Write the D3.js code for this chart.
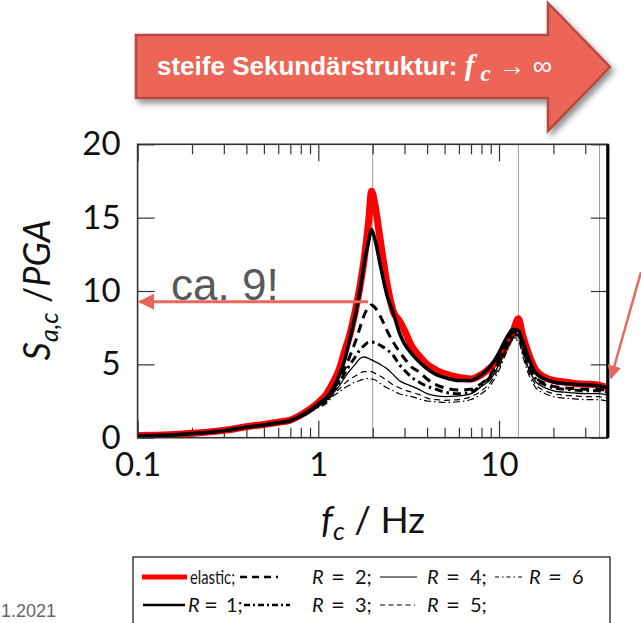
<!DOCTYPE html>
<html><head><meta charset="utf-8">
<script src="https://cdn.jsdelivr.net/npm/d3@7"></script>
<style>body{margin:0;background:#fff} svg{display:block}</style>
</head><body>
<svg id="c" width="641" height="623"></svg>
<script>
// ---------- data ----------
const freqs = [0.1,0.15,0.2,0.3,0.4,0.5,0.6,0.7,0.8,0.9,1.0,
  1.1,1.2,1.3,1.4,1.5,1.6,1.7,1.8,1.9,1.97,
  2.05,2.2,2.4,2.6,2.8,3.0,3.3,3.6,4.0,4.5,
  5.0,6.0,7.0,8.0,9.0,10,11,12,12.8,13.5,
  14.5,16,18,20,23,26,30,35,40];
const elastic = [0.15,0.2,0.3,0.5,0.75,0.9,1.05,1.2,1.55,1.95,2.4,
  2.9,3.7,4.6,5.9,7.1,8.6,10.3,12.3,14.8,16.8,
  16.0,13.5,10.5,8.6,8.0,7.3,6.2,5.6,5.0,4.6,
  4.35,4.1,4.0,4.3,4.8,5.4,6.3,7.3,8.1,7.0,
  5.8,4.6,4.1,3.9,3.8,3.7,3.65,3.6,3.4];
const R1 = [0.13,0.18,0.28,0.48,0.72,0.87,1.02,1.17,1.5,1.88,2.3,
  2.7,3.3,4.2,5.3,6.8,8.3,10.0,12.0,13.4,14.2,
  13.6,11.8,9.7,8.5,7.2,6.4,5.7,5.2,4.7,4.3,
  4.1,3.9,3.9,4.3,4.9,5.8,6.8,7.4,7.3,6.6,
  5.5,4.4,4.0,3.8,3.7,3.65,3.6,3.55,3.4];
const R2 = [0.13,0.18,0.28,0.48,0.72,0.87,1.02,1.17,1.48,1.85,2.25,
  2.6,3.2,3.9,4.7,5.6,6.5,7.5,8.4,8.9,9.05,
  8.9,8.3,7.3,6.5,5.9,5.4,4.8,4.5,4.0,3.6,
  3.4,3.25,3.3,3.7,4.3,5.4,6.5,7.2,7.1,6.3,
  5.1,4.1,3.7,3.5,3.4,3.35,3.3,3.3,3.2];
const R3 = [0.13,0.18,0.28,0.47,0.7,0.85,1.0,1.15,1.45,1.8,2.2,
  2.5,3.1,3.7,4.4,5.0,5.5,6.0,6.3,6.5,6.5,
  6.5,6.3,6.0,5.6,5.0,4.6,4.1,3.8,3.5,3.3,
  3.1,3.0,3.1,3.6,4.2,5.2,6.3,7.0,7.0,6.2,
  5.0,4.0,3.6,3.4,3.3,3.25,3.2,3.2,3.1];
const R4 = [0.12,0.17,0.27,0.46,0.7,0.85,1.0,1.14,1.43,1.78,2.15,
  2.5,3.0,3.5,4.1,4.6,5.0,5.4,5.5,5.4,5.3,
  5.2,5.0,4.7,4.3,3.9,3.7,3.5,3.3,3.0,2.85,
  2.8,2.85,3.0,3.5,4.0,5.0,6.1,6.9,7.0,6.0,
  4.8,3.8,3.4,3.2,3.1,3.05,3.0,3.0,2.9];
const R5 = [0.12,0.17,0.27,0.46,0.7,0.84,0.98,1.12,1.4,1.75,2.1,
  2.4,2.9,3.3,3.7,4.0,4.2,4.4,4.5,4.5,4.5,
  4.4,4.2,3.9,3.6,3.4,3.25,3.1,2.95,2.7,2.6,
  2.55,2.6,2.8,3.2,3.8,4.8,6.0,6.8,6.8,5.8,
  4.6,3.6,3.2,3.0,2.9,2.85,2.8,2.8,2.7];
const R6 = [0.12,0.17,0.27,0.45,0.68,0.82,0.96,1.1,1.38,1.72,2.05,
  2.3,2.8,3.1,3.4,3.6,3.8,3.9,4.0,4.05,4.0,
  3.95,3.7,3.4,3.2,3.0,2.9,2.8,2.65,2.5,2.45,
  2.4,2.45,2.6,3.0,3.6,4.6,5.8,6.7,6.6,5.6,
  4.4,3.4,3.0,2.8,2.7,2.65,2.6,2.6,2.5];
const xMajorTicks = [0.1, 1, 10];
const xMinorTicks = [0.2,0.3,0.4,0.5,0.6,0.7,0.8,0.9,2,3,4,5,6,7,8,9,20,30];
const yTicks = [0, 5, 10, 15, 20];
const gridFreqs = [2, 12.8, 36];
const annotValue = 9;
const legendLabels = ["elastic;", "2;", "4;", "6", "1;", "3;", "5;"];

// ---------- layout ----------
const L = 137.6, R = 607.8, T = 144.3, B = 437.7;
const x = d3.scaleLog().domain([0.1, 40]).range([L, R]);
const y = d3.scaleLinear().domain([0, 20]).range([B, T]);
const svg = d3.select("#c");
const FONT = "Lato, 'DejaVu Sans', sans-serif";

const defs = svg.append("defs");
defs.append("clipPath").attr("id","clip").append("rect")
  .attr("x", L).attr("y", T).attr("width", R-L).attr("height", B-T);
const sh = defs.append("filter").attr("id","shadow").attr("x","-10%").attr("y","-20%").attr("width","130%").attr("height","150%");
sh.append("feDropShadow").attr("dx",3).attr("dy",4).attr("stdDeviation",3).attr("flood-color","#000").attr("flood-opacity",0.45);
defs.append("marker").attr("id","ah").attr("viewBox","0 0 10 10").attr("refX",9).attr("refY",5)
  .attr("markerWidth",5.5).attr("markerHeight",5.5).attr("orient","auto-start-reverse")
  .attr("markerUnits","strokeWidth")
  .append("path").attr("d","M0,0 L10,5 L0,10 Z").attr("fill","#E8675A");

// ---------- big arrow ----------
const ax0 = 136, ax1 = 548, ay0 = 35, ay1 = 98, ht = 3, hb = 131, tipX = 610, tipY = 67;
svg.append("path")
  .attr("d", `M${ax0},${ay0} L${ax1},${ay0} L${ax1},${ht} L${tipX},${tipY} L${ax1},${hb} L${ax1},${ay1} L${ax0},${ay1} Z`)
  .attr("fill","#EC6557").attr("stroke","#B44A3F").attr("stroke-width",2.5)
  .attr("filter","url(#shadow)");
const at = svg.append("text").attr("x",157).attr("y",75).attr("fill","#fff")
  .attr("font-family","'Liberation Sans', Arial, sans-serif").attr("font-weight","bold").attr("font-size",26);
at.append("tspan").text("steife Sekundärstruktur: ");
at.append("tspan").attr("font-family","'Liberation Serif','DejaVu Serif',serif").attr("font-style","italic").attr("font-size",30).text("f");
at.append("tspan").attr("font-family","'Liberation Serif','DejaVu Serif',serif").attr("font-style","italic").attr("font-size",23).attr("dy",6).text(" c");
at.append("tspan").attr("dy",-6).attr("font-weight","normal").attr("font-size",27).text(" → ∞");

// ---------- grid ----------
svg.append("g").selectAll("line").data(gridFreqs).join("line")
  .attr("x1", d=>x(d)).attr("x2", d=>x(d)).attr("y1", T).attr("y2", B)
  .attr("stroke","#9a9a9a").attr("stroke-width",1);

// ---------- axes ----------
function styleAxis(g){ g.select(".domain").remove(); g.selectAll("line").attr("stroke","#333").attr("stroke-width",1.2);
  g.selectAll("text").attr("font-family",FONT).attr("font-size",33).attr("fill","#111"); }
svg.append("g").attr("transform",`translate(0,${B})`)
  .call(d3.axisBottom(x).tickValues(xMajorTicks).tickSize(-17).tickPadding(15).tickFormat(d3.format("~g"))).call(styleAxis);
svg.append("g").attr("transform",`translate(0,${B})`)
  .call(d3.axisBottom(x).tickValues(xMinorTicks).tickSize(-10).tickFormat("")).call(styleAxis);
svg.append("g").attr("transform",`translate(0,${T})`)
  .call(d3.axisTop(x).tickValues(xMajorTicks).tickSize(-17).tickFormat("")).call(styleAxis);
svg.append("g").attr("transform",`translate(0,${T})`)
  .call(d3.axisTop(x).tickValues(xMinorTicks).tickSize(-10).tickFormat("")).call(styleAxis);
svg.append("g").attr("transform",`translate(${L},0)`)
  .call(d3.axisLeft(y).tickValues(yTicks).tickSize(-17).tickPadding(17)).call(styleAxis);
svg.append("g").attr("transform",`translate(${R},0)`)
  .call(d3.axisRight(y).tickValues(yTicks).tickSize(-17).tickFormat("")).call(styleAxis);

// ---------- curves ----------
const line = d3.line().x((d,i)=>x(freqs[i])).y(d=>y(d)).curve(d3.curveMonotoneX);
const series = [
  {v: elastic, c:"#ff0000", w:7, dash:null},
  {v: R6, c:"#000", w:1.2, dash:"7,3,1.5,3"},
  {v: R5, c:"#000", w:1.2, dash:"6,4"},
  {v: R4, c:"#000", w:1.3, dash:null},
  {v: R3, c:"#000", w:3, dash:"8,4,2.5,4"},
  {v: R2, c:"#000", w:3, dash:"9,6"},
  {v: R1, c:"#000", w:3.5, dash:null},
];
const cg = svg.append("g").attr("clip-path","url(#clip)");
series.forEach(s=>{
  cg.append("path").attr("d", line(s.v)).attr("fill","none").attr("stroke",s.c)
    .attr("stroke-width",s.w).attr("stroke-dasharray",s.dash).attr("stroke-linejoin","round");
});

// ---------- frame ----------
svg.append("rect").attr("x",L).attr("y",T).attr("width",R-L).attr("height",B-T)
  .attr("fill","none").attr("stroke","#333").attr("stroke-width",1.6);
svg.append("line").attr("x1",R).attr("x2",R).attr("y1",T).attr("y2",B).attr("stroke","#000").attr("stroke-width",3.2);

// ---------- axis labels ----------
const yl = svg.append("text").attr("transform","translate(50,290) rotate(-90)").attr("text-anchor","middle")
  .attr("font-family",FONT).attr("font-size",36).attr("fill","#111");
yl.append("tspan").attr("font-style","italic").text("S");
yl.append("tspan").attr("font-style","italic").attr("font-size",25).attr("dy",8).text("a,c");
yl.append("tspan").attr("dy",-8).text(" /");
yl.append("tspan").attr("font-style","italic").text("PGA");

const xl = svg.append("text").attr("x",373).attr("y",533).attr("text-anchor","middle")
  .attr("font-family",FONT).attr("font-size",37).attr("fill","#111");
xl.append("tspan").attr("font-style","italic").text("f");
xl.append("tspan").attr("font-style","italic").attr("font-size",26).attr("dy",7).text("c");
xl.append("tspan").attr("dy",-7).text("  /  Hz");

// ---------- annotations ----------
svg.append("line").attr("x1",368).attr("x2",L+2).attr("y1",y(annotValue)-4).attr("y2",y(annotValue)-4)
  .attr("stroke","#E8675A").attr("stroke-width",3).attr("marker-end","url(#ah)");
svg.append("text").attr("x",171).attr("y",300).attr("font-family","'Liberation Sans', Arial, sans-serif")
  .attr("font-size",44).attr("fill","#595959").text("ca. 9!");
svg.append("line").attr("x1",641).attr("y1",272).attr("x2",611).attr("y2",378)
  .attr("stroke","#E8675A").attr("stroke-width",2.5).attr("marker-end","url(#ah)");

svg.append("text").attr("x",1).attr("y",617)
  .attr("font-family","'Liberation Sans', Arial, sans-serif").attr("font-size",18).attr("fill","#666").text("1.2021");

// ---------- legend ----------
const lg = svg.append("g");
lg.append("rect").attr("x",133).attr("y",557).attr("width",477).attr("height",80)
  .attr("fill","#fff").attr("stroke","#222").attr("stroke-width",1.3);
// [series index, sample x1, sample x2, text x, row y, label index, "=" offset, number offset]
const legendLayout = [
  [0, 142, 187, 190, 577, 0, 0, 0],
  [5, 240, 278, 312, 577, 1, 19, 43],
  [3, 380, 417, 427, 577, 2, 19, 43],
  [1, 495, 523, 529, 577, 3, 19, 43],
  [6, 143, 185, 188, 605, 4, 16, 38],
  [4, 244, 290, 312, 605, 5, 19, 43],
  [2, 380, 415, 427, 605, 6, 19, 43],
];
const legendDash = {5:"7,5", 4:"6,3,2,3", 2:"5,3.5", 1:"4,3,1.5,3"};
legendLayout.forEach(([si, x1, x2, tx, ry, li, eo, no])=>{
  const s = series[si];
  lg.append("line").attr("x1",x1).attr("x2",x2).attr("y1",ry).attr("y2",ry)
    .attr("stroke",s.c).attr("stroke-width", si===0 ? 5 : (s.w>2 ? 2.6 : 1.2))
    .attr("stroke-dasharray", legendDash[si] || null);
  const t = lg.append("text").attr("y", ry+7)
    .attr("font-family",FONT).attr("font-size",20).attr("fill","#111");
  if (si === 0) { t.attr("x", tx).attr("textLength",45).attr("lengthAdjust","spacingAndGlyphs").text(legendLabels[li]); }
  else {
    t.append("tspan").attr("x", tx).attr("font-style","italic").text("R");
    t.append("tspan").attr("x", tx+eo).attr("font-size",24).attr("dy",1).text("=");
    t.append("tspan").attr("x", tx+no).attr("dy",-1).text(legendLabels[li]);
  }
});
</script>
</body></html>
